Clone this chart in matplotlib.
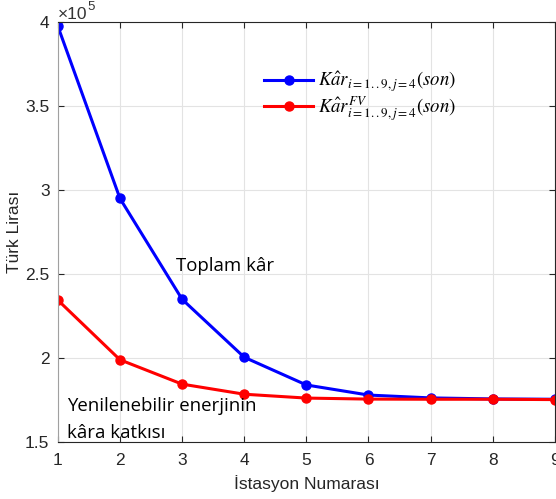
import matplotlib
matplotlib.use("Agg")
import matplotlib.pyplot as plt
from matplotlib import font_manager

stations = [1, 2, 3, 4, 5, 6, 7, 8, 9]
total_profit = [3.975e5, 2.95e5, 2.35e5, 2.005e5, 1.84e5, 1.78e5, 1.763e5, 1.757e5, 1.755e5]
renewable_profit = [2.345e5, 1.99e5, 1.845e5, 1.785e5, 1.762e5, 1.756e5, 1.755e5, 1.755e5, 1.753e5]

plt.rcParams['mathtext.fontset'] = 'stix'

names = {f.name for f in font_manager.fontManager.ttflist}
axis_font = 'Liberation Sans Narrow' if 'Liberation Sans Narrow' in names else 'Liberation Sans'

fig = plt.figure(figsize=(5.56, 4.99), dpi=100)
ax = fig.add_axes([0.104, 0.114, 0.894, 0.842])

ax.plot(stations, total_profit, color='#0000ff', lw=2.2, marker='o', ms=6.5,
        label=r'$K\hat{a}r_{i=1..9,j=4}(son)$')
ax.plot(stations, renewable_profit, color='#ff0000', lw=2.2, marker='o', ms=6.5,
        label=r'$K\hat{a}r^{FV}_{i=1..9,j=4}(son)$')

ax.set_xlim(1, 9)
ax.set_ylim(1.5e5, 4e5)
ax.set_xticks(stations)
ax.set_yticks([1.5e5, 2e5, 2.5e5, 3e5, 3.5e5, 4e5])
ax.set_yticklabels(['1.5', '2', '2.5', '3', '3.5', '4'])

# exponent marker above the y axis
fig.text(0.104, 0.962, '×10', fontsize=12.5, color='#333333',
         ha='left', va='baseline', family=axis_font)
fig.text(0.157, 0.980, '5', fontsize=9.5, color='#333333',
         ha='left', va='baseline', family=axis_font)

ax.grid(True, color='#e3e3e3', lw=0.8)
ax.set_axisbelow(True)
ax.tick_params(direction='in', labelsize=12.5, colors='#262626', length=4,
               top=True, right=True)
ax.tick_params(axis='x', pad=8)
ax.tick_params(axis='y', pad=6)
for lbl in ax.get_xticklabels() + ax.get_yticklabels():
    lbl.set_family(axis_font)
ax.spines['left'].set_color('#a0a0a0')
for s in ('top', 'bottom', 'right'):
    ax.spines[s].set_color('#262626')

ax.set_xlabel('İstasyon Numarası', fontsize=12.5, family=axis_font, color='#262626', labelpad=5)
ax.set_ylabel('Türk Lirası', fontsize=12.5, family=axis_font, color='#262626', labelpad=2)

ax.text(2.9, 2.52e5, 'Toplam kâr', fontsize=13.4, family='Open Sans')
ax.text(1.15, 1.77e5, 'Yenilenebilir enerjinin', fontsize=13.4, family='Open Sans', va='top')
ax.text(1.15, 1.61e5, 'kâra katkısı', fontsize=13.4, family='Open Sans', va='top')

leg = ax.legend(loc='upper left', bbox_to_anchor=(0.40, 0.905), frameon=False,
                fontsize=13.5, handlelength=2.6, handletextpad=0.25,
                borderaxespad=0, labelspacing=0.02)

fig.savefig('out.png', dpi=100)
